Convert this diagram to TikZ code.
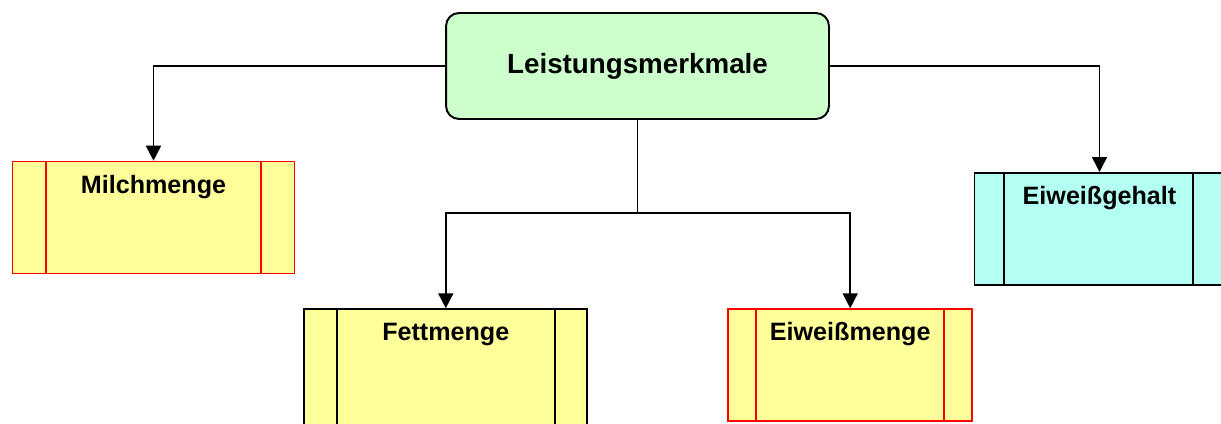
\documentclass[tikz,border=0pt]{standalone}
\usepackage{fontspec}
\setmainfont{Liberation Sans}
\usetikzlibrary{arrows.meta}
\definecolor{kopfgruen}{RGB}{204,255,204}
\definecolor{feldgelb}{RGB}{255,255,153}
\definecolor{feldtuerkis}{RGB}{179,255,243}
\tikzset{
  kopf/.style={draw, line width=1.1pt, rounded corners=0.26cm, fill=kopfgruen,
    minimum width=7.66cm, minimum height=2.12cm,
    font=\bfseries\fontsize{15.8}{18}\selectfont},
  merkmal/.style={draw=#1, line width=1pt, fill=feldgelb, anchor=north,
    inner sep=0pt, text height=0.63cm, text depth=1.61cm,
    font=\bfseries\fontsize{14.3}{17}\selectfont},
  pfeil/.style={draw, line width=0.9pt, -{Triangle[width=0.3cm,length=0.3cm]}}
}
\begin{document}
\begin{tikzpicture}[x=0.02cm,y=-0.02cm]
\clip (0,0) rectangle (1221,423);
\node[kopf] (kopf) at (637.5,66) {Leistungsmerkmale};
%linker und rechter Zweig
\node[merkmal=red, minimum width=5.64cm] (milch) at (153.5,160.7) {Milchmenge};
\node[merkmal=black, fill=feldtuerkis, minimum width=5cm] (gehalt) at (1099.5,172) {Eiweißgehalt};
%unterer Zweig
\node[merkmal=black, minimum width=5.66cm, text depth=1.8cm] (fett) at (445.8,308.3) {Fettmenge};
\node[merkmal=red, minimum width=4.88cm] (eiweiss) at (850.2,308.3) {Eiweißmenge};
%innere Linien
\foreach \n/\d/\c in {milch/34/red, fett/33.5/black, eiweiss/29/red, gehalt/30/black} {
  \draw[\c, line width=1pt] ([xshift=\d*0.02cm]\n.north west) -- ([xshift=\d*0.02cm]\n.south west);
}
\foreach \n/\d/\c in {milch/34/red, fett/33.5/black, eiweiss/29/red, gehalt/32/black} {
  \draw[\c, line width=1pt] ([xshift=-\d*0.02cm]\n.north east) -- ([xshift=-\d*0.02cm]\n.south east);
}
%Verbindungen
\draw[pfeil] (kopf.west) -| (milch.north);
\draw[pfeil] (kopf.east) -| (gehalt.north);
\coordinate (teilung) at (637.5,213);
\draw[line width=0.9pt] (kopf.south) -- (teilung);
\draw[pfeil] (teilung) -| (fett.north);
\draw[pfeil] (teilung) -| (eiweiss.north);
\end{tikzpicture}
\end{document}
